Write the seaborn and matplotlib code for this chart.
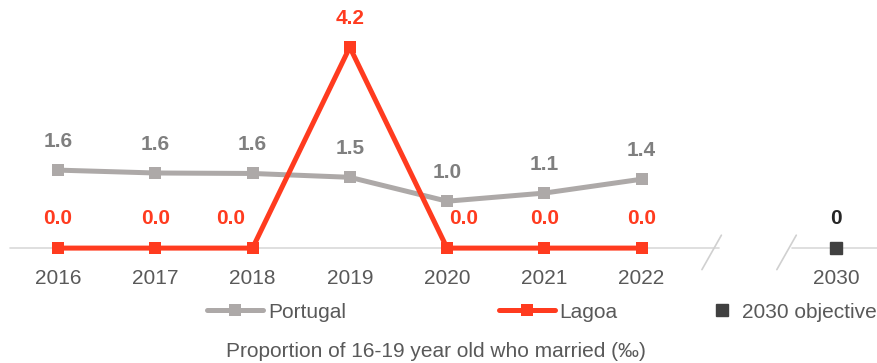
import pandas as pd
import seaborn as sns
import matplotlib.pyplot as plt
from matplotlib.lines import Line2D

# data
years = ['2016', '2017', '2018', '2019', '2020', '2021', '2022']
portugal = [1.63, 1.57, 1.56, 1.48, 0.98, 1.15, 1.44]
lagoa = [0.0, 0.0, 0.0, 4.2, 0.0, 0.0, 0.0]
target_year = '2030'
target_value = 0

GREY = '#ADA9A8'
GREY_TXT = '#7F7F7F'
RED = '#FF3B1F'
DARK = '#404040'
TXT = '#595959'
FS = 15

sns.set_theme(style='white')
plt.rcParams['font.family'] = ['Liberation Sans', 'DejaVu Sans']

pos = list(range(len(years)))
target_pos = len(years) + 1
df = pd.DataFrame({'pos': pos, 'Portugal': portugal, 'Lagoa': lagoa})

fig = plt.figure(figsize=(8.78, 3.63), dpi=100)
ax = fig.add_axes([0, 0.289, 1, 0.697])

# broken baseline
ax.plot([-0.49, 6.8], [0, 0], color='#D9D9D9', lw=1.2, zorder=1)
ax.plot([7.55, 8.6], [0, 0], color='#D9D9D9', lw=1.2, zorder=1)
for xb in (6.82, 7.59):
    ax.plot([xb - 0.2, xb], [-0.45, 0.27], color='#D0D0D0', lw=1.2,
            clip_on=False, zorder=1)

sns.lineplot(data=df, x='pos', y='Portugal', ax=ax, color=GREY, lw=3.6,
             marker='s', markersize=9, markeredgewidth=0, zorder=2)
sns.lineplot(data=df, x='pos', y='Lagoa', ax=ax, color=RED, lw=3.6,
             marker='s', markersize=9, markeredgewidth=0, zorder=3)
ax.plot([target_pos], [target_value], marker='s', markersize=9, color=DARK,
        ls='none', zorder=3)

# data labels
for x, v in zip(pos, portugal):
    ax.annotate(f'{v:.1f}', (x, v), xytext=(0, 20.5), textcoords='offset points',
                ha='center', va='center', fontsize=FS, fontweight='bold',
                color=GREY_TXT)
shift = {2: -16, 4: 12}
for x, v in zip(pos, lagoa):
    ax.annotate(f'{v:.1f}', (x, v), xytext=(shift.get(x, 0), 21),
                textcoords='offset points', ha='center', va='center',
                fontsize=FS, fontweight='bold', color=RED)
ax.annotate(f'{target_value}', (target_pos, target_value), xytext=(0, 21),
            textcoords='offset points', ha='center', va='center',
            fontsize=FS, fontweight='bold', color='#262626')

ax.set_xlim(-0.596, 8.43)
ax.set_ylim(-0.209, 5.08)
ax.set_xticks(pos + [target_pos])
ax.set_xticklabels(years + [target_year], fontsize=FS, color=TXT)
ax.tick_params(axis='x', length=0, pad=8)
ax.set_yticks([])
ax.set_xlabel('')
ax.set_ylabel('')
for s in ax.spines.values():
    s.set_visible(False)

# legend, three separate entries
line_kw = dict(lw=3.6, marker='s', markersize=9, markeredgewidth=0)
entries = [
    (Line2D([], [], color=GREY, **line_kw), 'Portugal', 207 / 878, 2.7, 0.25),
    (Line2D([], [], color=RED, **line_kw), 'Lagoa', 499 / 878, 2.7, 0.2),
    (Line2D([], [], color=DARK, ls='none', marker='s', markersize=8.5),
     '2030 objective', 712 / 878, 1.0, 0.45),
]
for h, lab, xf, hl, tp in entries:
    leg = fig.legend([h], [lab], loc='center left', bbox_to_anchor=(xf, 0.14),
                     frameon=False, fontsize=FS, handlelength=hl,
                     handletextpad=tp, borderaxespad=0, borderpad=0)
    for t in leg.get_texts():
        t.set_color(TXT)

fig.text(0.497, 0.032, 'Proportion of 16-19 year old who married (‰)',
         ha='center', va='center', fontsize=FS, color=TXT)

fig.savefig('out.png', dpi=100)
